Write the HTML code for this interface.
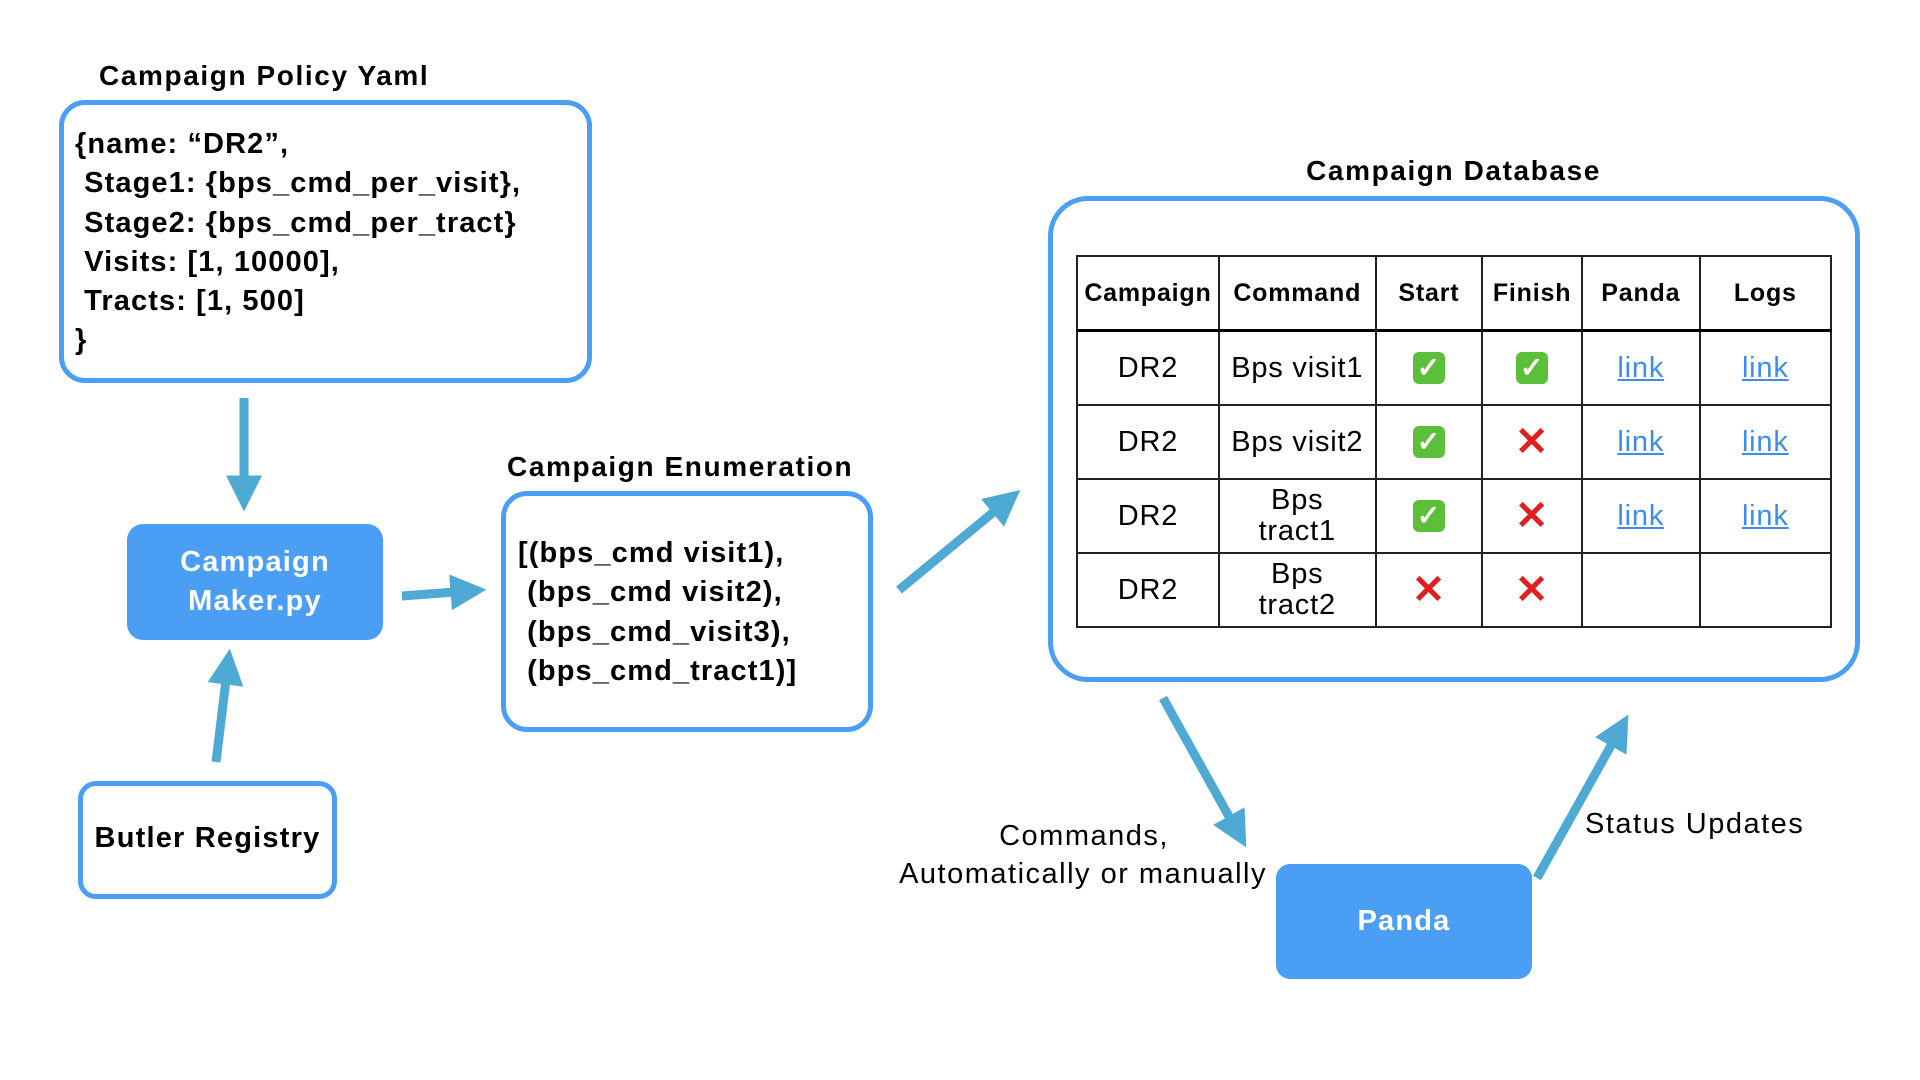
<!DOCTYPE html>
<html><head><meta charset="utf-8"><style>
body{margin:0;width:1920px;height:1080px;background:#fff;position:relative;overflow:hidden;font-family:"Liberation Sans",sans-serif;}
.a{position:absolute;}
.box{position:absolute;border:5px solid #4a9ff5;border-radius:26px;box-sizing:border-box;background:#fff;}
.fill{position:absolute;background:#4a9ff5;border-radius:16px;color:#fff;font-weight:bold;font-size:29px;letter-spacing:1.2px;display:flex;align-items:center;justify-content:center;text-align:center;line-height:39px;}
.t{position:absolute;font-weight:bold;font-size:29px;white-space:nowrap;letter-spacing:1.2px;}
.title{letter-spacing:1.6px;}
.code{position:absolute;font-weight:bold;font-size:29px;line-height:39.3px;white-space:pre;letter-spacing:1.1px;}
table{position:absolute;left:1076px;top:255px;width:756px;height:370px;border-collapse:collapse;font-size:29px;}
td,th{border:2px solid #222;text-align:center;padding:0;}
th{font-size:25px;height:72px;border-bottom:3px solid #000;letter-spacing:0.8px;}
td{height:72px;line-height:31px;letter-spacing:0.8px;}
a{color:#3b8ef0;text-decoration:underline;}
.ok{display:inline-block;width:32px;height:32px;background:#5cbf3a;border-radius:6px;color:#fff;font-size:28px;line-height:32px;font-weight:bold;vertical-align:middle;}
.x{color:#e02020;font-size:40px;font-weight:bold;vertical-align:middle;}
.n{font-size:29px;letter-spacing:1.5px;white-space:nowrap;}
</style></head><body>
<div class="t title" style="left:99px;top:60px;font-size:28px">Campaign Policy Yaml</div>
<div class="box" style="left:59px;top:100px;width:533px;height:283px"></div>
<div class="code" style="left:75px;top:125px">{name: “DR2”,
 Stage1: {bps_cmd_per_visit},
 Stage2: {bps_cmd_per_tract}
 Visits: [1, 10000],
 Tracts: [1, 500]
}</div>
<div class="fill" style="left:127px;top:524px;width:256px;height:116px">Campaign<br>Maker.py</div>
<div class="box" style="left:78px;top:781px;width:259px;height:118px;border-radius:18px"></div>
<div class="t" style="left:78px;top:822px;width:259px;text-align:center">Butler Registry</div>
<div class="t title" style="left:507px;top:451px;font-size:28px">Campaign Enumeration</div>
<div class="box" style="left:501px;top:491px;width:372px;height:241px"></div>
<div class="code" style="left:518px;top:534px">[(bps_cmd visit1),
 (bps_cmd visit2),
 (bps_cmd_visit3),
 (bps_cmd_tract1)]</div>
<div class="t title" style="left:1048px;top:155px;width:811px;text-align:center;font-size:28px">Campaign Database</div>
<div class="box" style="left:1048px;top:196px;width:812px;height:486px;border-radius:40px"></div>
<table>
<colgroup><col style="width:142px"><col style="width:157px"><col style="width:107px"><col style="width:100px"><col style="width:118px"><col style="width:132px"></colgroup>
<tr><th>Campaign</th><th>Command</th><th>Start</th><th>Finish</th><th>Panda</th><th>Logs</th></tr>
<tr><td>DR2</td><td>Bps visit1</td><td><span class="ok">✓</span></td><td><span class="ok">✓</span></td><td><a>link</a></td><td><a>link</a></td></tr>
<tr><td>DR2</td><td>Bps visit2</td><td><span class="ok">✓</span></td><td><span class="x">✕</span></td><td><a>link</a></td><td><a>link</a></td></tr>
<tr><td>DR2</td><td>Bps<br>tract1</td><td><span class="ok">✓</span></td><td><span class="x">✕</span></td><td><a>link</a></td><td><a>link</a></td></tr>
<tr><td>DR2</td><td>Bps<br>tract2</td><td><span class="x">✕</span></td><td><span class="x">✕</span></td><td></td><td></td></tr>
</table>
<div class="fill" style="left:1276px;top:864px;width:256px;height:115px;border-radius:14px">Panda</div>
<div class="a n" style="left:1084px;top:820px;transform:translateX(-50%)">Commands,</div>
<div class="a n" style="right:653px;top:858px">Automatically or manually</div>
<div class="a n" style="left:1585px;top:808px">Status Updates</div>
<svg class="a" style="left:0;top:0" width="1920" height="1080">
<defs><marker id="h" markerWidth="4" markerHeight="4" refX="0.5" refY="2" orient="auto" markerUnits="strokeWidth"><path d="M0,0 L4,2 L0,4 z" fill="#4eaad4"/></marker></defs>
<g stroke="#4eaad4" stroke-width="9" fill="none">
<line x1="244" y1="398" x2="244" y2="480" marker-end="url(#h)"/>
<line x1="402" y1="596" x2="455" y2="592" marker-end="url(#h)"/>
<line x1="216" y1="762" x2="226" y2="680" marker-end="url(#h)"/>
<line x1="899" y1="590" x2="996" y2="510" marker-end="url(#h)"/>
<line x1="1163" y1="698" x2="1231" y2="820" marker-end="url(#h)"/>
<line x1="1537" y1="878" x2="1613" y2="742" marker-end="url(#h)"/>
</g></svg>
</body></html>
